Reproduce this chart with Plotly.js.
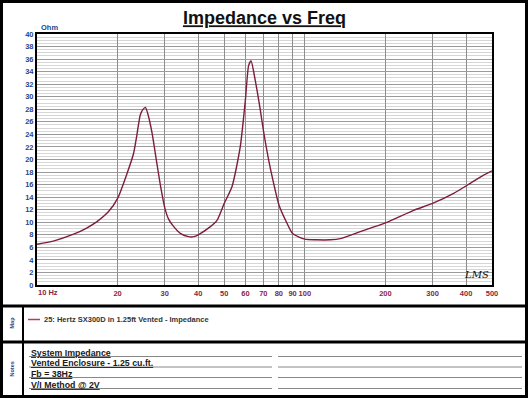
<!DOCTYPE html>
<html>
<head>
<meta charset="utf-8">
<script src="https://cdn.plot.ly/plotly-3.0.1.min.js"></script>
<style>html,body{margin:0;padding:0;background:#fff;}#chart{width:528px;height:398px;}</style>
</head>
<body>
<div id="chart"></div>
<script>
// Frequency (Hz) and impedance (Ohm)
const freqHz = [10, 11.5, 13.7, 15.2, 16.75, 18.5, 20, 21.7, 22.95, 23.6, 24.3, 24.8, 25.4, 26.0, 26.9, 28.0, 29.0, 30,
  31, 32.4, 34.4, 36.8, 38.5, 40, 44.4, 47, 50, 53.5, 57.4, 60, 61.7, 63.0, 65.3, 68.2, 70, 73.3, 76.5, 80, 85.9, 90,
  100, 110, 124.5, 135.8, 161, 200, 255, 300, 359.5, 415, 465, 500];
const impedanceOhm = [6.5, 7.0, 8.1, 9.0, 10.1, 11.7, 13.8, 17.8, 21.0, 23.9, 27.1, 27.9, 28.3, 27.1, 24.2, 19.5, 15.5, 12.3,
  10.5, 9.3, 8.2, 7.7, 7.7, 8.0, 9.3, 10.3, 13.0, 15.7, 22.0, 29.5, 35.0, 35.7, 32.6, 27.9, 24.7, 19.9, 16.2, 12.8, 9.8, 8.2,
  7.3, 7.2, 7.2, 7.4, 8.5, 9.9, 11.9, 13.0, 14.6, 16.2, 17.5, 18.2];
const xTickVals = [10, 20, 30, 40, 50, 60, 70, 80, 90, 100, 200, 300, 400, 500];
const xTickText = ['', '20', '30', '40', '50', '60', '70', '80', '90', '100', '200', '300', '400', '500'];
const seriesName = '25: Hertz SX300D in 1.25ft Vented - Impedance';
const notes = ['System Impedance', 'Vented Enclosure - 1.25 cu.ft.', 'Fb = 38Hz', 'V/I Method @ 2V'];

const W = 528, H = 398;
const L = 37, R = 492, T = 34, B = 285;
const px = x => (x - L) / (R - L);
const py = y => (B - y) / (B - T);

const curveColor = '#7d1d3a';
const blue = '#28458a';
const maroon = '#8a1f3f';

const shapes = [];
const annotations = [];

// outer frame
shapes.push({type:'rect', xref:'paper', yref:'paper', x0:px(1.5), x1:px(526.5), y0:py(1.5), y1:py(396.5),
  line:{color:'#000', width:3}, fillcolor:'rgba(0,0,0,0)', layer:'above'});
// panel separators
shapes.push({type:'line', xref:'paper', yref:'paper', x0:px(1.5), x1:px(526.5), y0:py(306), y1:py(306), line:{color:'#000', width:3}});
shapes.push({type:'line', xref:'paper', yref:'paper', x0:px(1.5), x1:px(526.5), y0:py(342), y1:py(342), line:{color:'#000', width:3}});
shapes.push({type:'line', xref:'paper', yref:'paper', x0:px(23), x1:px(23), y0:py(306), y1:py(396), line:{color:'#000', width:2}});
// legend sample line
shapes.push({type:'line', xref:'paper', yref:'paper', x0:px(28), x1:px(40), y0:py(319.5), y1:py(319.5), line:{color:'#b04055', width:1.5}});
// notes lines
const noteY = [352.5, 363, 373.5, 384.5];
noteY.forEach((y, i) => {
  const ly = y + 4;
  shapes.push({type:'line', xref:'paper', yref:'paper', x0:px(29), x1:px(272), y0:py(ly), y1:py(ly), line:{color:'#888', width:1}});
  shapes.push({type:'line', xref:'paper', yref:'paper', x0:px(278), x1:px(522), y0:py(ly), y1:py(ly), line:{color:'#888', width:1}});
  annotations.push({xref:'paper', yref:'paper', x:px(29), y:py(y), xanchor:'left', yanchor:'middle', showarrow:false,
    text:'<u>' + notes[i] + '</u>', font:{family:'Arial, Liberation Sans', size:8.8, color:'#1a1a1a', weight:'bold'}});
});

annotations.push({xref:'paper', yref:'paper', x:px(42), y:py(319.5), xanchor:'left', yanchor:'middle', showarrow:false,
  text:seriesName, font:{family:'Arial, Liberation Sans', size:7.5, color:'#333', weight:'bold'}});
annotations.push({xref:'paper', yref:'paper', x:px(11.5), y:py(323), xanchor:'center', yanchor:'middle', showarrow:false,
  text:'Map', textangle:-90, font:{family:'Arial, Liberation Sans', size:5.5, color:blue, weight:'bold'}});
annotations.push({xref:'paper', yref:'paper', x:px(11.5), y:py(369), xanchor:'center', yanchor:'middle', showarrow:false,
  text:'Notes', textangle:-90, font:{family:'Arial, Liberation Sans', size:5.5, color:blue, weight:'bold'}});
annotations.push({xref:'paper', yref:'paper', x:px(39), y:py(27.5), xanchor:'left', yanchor:'middle', showarrow:false,
  text:'Ohm', font:{family:'Arial, Liberation Sans', size:7.5, color:blue, weight:'bold'}});
annotations.push({xref:'paper', yref:'paper', x:px(36), y:py(292), xanchor:'left', yanchor:'middle', showarrow:false,
  text:'10 Hz', font:{family:'Arial, Liberation Sans', size:7.5, color:maroon, weight:'bold'}});
annotations.push({xref:'paper', yref:'paper', x:px(476), y:py(274), xanchor:'center', yanchor:'middle', showarrow:false,
  text:'<i>LMS</i>', font:{family:'DejaVu Serif', size:10, color:'#111'}});

const trace = {
  x: freqHz, y: impedanceOhm, type:'scatter', mode:'lines', name: seriesName,
  line:{color:curveColor, width:1.4, shape:'spline', smoothing:0.6}, hoverinfo:'skip'
};

const layout = {
  width:W, height:H,
  margin:{l:L, r:W-R, t:T, b:H-B, pad:0},
  paper_bgcolor:'#fff', plot_bgcolor:'#fff',
  showlegend:false,
  title:{text:'<u>Impedance vs Freq</u>', x:0.5, xref:'paper', xanchor:'center', y:1-18/H, yref:'container', yanchor:'middle',
    font:{family:'Arial, Liberation Sans', size:18, color:'#111', weight:'bold'}},
  xaxis:{type:'log', range:[1, Math.log10(500)], tickmode:'array', tickvals:xTickVals, ticktext:xTickText,
    ticks:'', tickangle:0, showgrid:true, gridcolor:'#8c8c8c', gridwidth:1,
    showline:true, linecolor:'#000', linewidth:2, mirror:true, zeroline:false,
    tickfont:{family:'Arial, Liberation Sans', size:7.5, color:maroon, weight:'bold'}},
  yaxis:{range:[0, 40], dtick:2, tick0:0, ticks:'', showgrid:true, gridcolor:'#9a9a9a', gridwidth:1,
    minor:{dtick:0.5, showgrid:true, gridcolor:'#d6d6d6', gridwidth:1},
    showline:true, linecolor:'#000', linewidth:2, mirror:true, zeroline:false,
    tickfont:{family:'Arial, Liberation Sans', size:7.5, color:blue, weight:'bold'}},
  shapes: shapes,
  annotations: annotations
};

Plotly.newPlot('chart', [trace], layout, {staticPlot:true, displayModeBar:false});
</script>
</body>
</html>
